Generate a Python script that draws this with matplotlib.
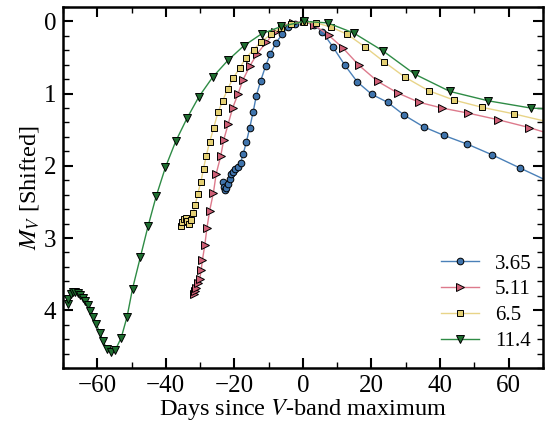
import numpy as np
import matplotlib
matplotlib.use("Agg")
from matplotlib import pyplot as plt
from matplotlib.ticker import MultipleLocator

plt.rcParams['font.family'] = ['Liberation Serif', 'DejaVu Serif']
plt.rcParams['mathtext.fontset'] = 'stix'

# Light-curve samples (days since V max, shifted M_V).
# The last entry of each series sits past the right edge: it only carries the line.
labels = ['3.65', '5.11', '6.5', '11.4']

t_365 = [-23.2, -23.0, -22.7, -22.3, -21.9, -21.4, -20.9, -20.4, -19.7, -18.9, -18.2, -17.4,
         -16.5, -15.5, -14.5, -13.6, -12.3, -10.9, -9.5, -7.9, -6.1, -4.3, -2.4, 0.2, 3.3,
         5.6, 8.7, 12.3, 15.9, 20.1, 24.7, 29.6, 35.2, 41.2, 48.0, 55.3, 63.3, 75.0]
m_365 = [2.22, 2.30, 2.34, 2.31, 2.25, 2.18, 2.12, 2.08, 2.05, 2.02, 1.96, 1.83,
         1.67, 1.47, 1.25, 1.03, 0.82, 0.62, 0.45, 0.30, 0.18, 0.08, 0.03, 0.0, 0.05,
         0.14, 0.35, 0.61, 0.84, 1.01, 1.12, 1.30, 1.46, 1.58, 1.70, 1.85, 2.03, 2.29]

t_511 = [-31.9, -31.6, -31.1, -30.6, -30.1, -29.7, -29.3, -28.6, -28.0, -27.2, -26.1,
         -25.3, -24.0, -23.1, -21.8, -20.5, -18.9, -17.5, -15.5, -13.4, -10.7, -8.2, -6.0,
         -3.0, 0.2, 3.3, 7.5, 11.7, 16.4, 21.8, 27.6, 33.9, 40.6, 48.2, 56.8, 66.0, 75.0]
m_511 = [3.77, 3.73, 3.69, 3.63, 3.57, 3.45, 3.30, 3.09, 2.86, 2.62, 2.37,
         2.11, 1.87, 1.64, 1.42, 1.20, 1.00, 0.81, 0.62, 0.45, 0.29, 0.15, 0.06,
         0.02, 0.0, 0.05, 0.19, 0.37, 0.61, 0.83, 0.99, 1.12, 1.20, 1.27, 1.36, 1.47, 1.60]

t_65 = [-35.6, -35.2, -34.8, -34.2, -33.7, -33.2, -32.7, -32.1, -31.4, -30.7, -29.8,
        -29.0, -28.2, -27.2, -26.0, -24.8, -23.4, -22.0, -20.4, -18.5, -16.7, -14.4,
        -12.1, -9.4, -6.5, -3.6, 0.2, 3.9, 8.3, 13.0, 18.0, 23.7, 29.7, 36.7, 44.1,
        52.3, 61.5, 75.0]
m_65 = [2.83, 2.78, 2.73, 2.72, 2.76, 2.80, 2.75, 2.65, 2.54, 2.39, 2.23,
        2.04, 1.86, 1.67, 1.47, 1.26, 1.10, 0.94, 0.79, 0.65, 0.51, 0.39,
        0.28, 0.18, 0.09, 0.03, 0.01, 0.02, 0.08, 0.18, 0.35, 0.56, 0.77, 0.96, 1.09,
        1.19, 1.28, 1.43]

t_114 = [-68.6, -68.4, -67.8, -67.1, -66.4, -65.6, -64.9, -64.2, -63.5, -62.7, -62.0,
         -61.1, -60.3, -59.3, -58.3, -57.2, -56.1, -54.7, -53.0, -51.3, -49.7, -47.4,
         -45.2, -42.8, -40.1, -37.1, -33.8, -30.3, -26.3, -21.9, -17.3, -12.0, -6.3,
         0.2, 7.2, 14.8, 23.4, 32.6, 42.9, 54.1, 66.5, 75.0]
m_114 = [3.91, 3.85, 3.78, 3.75, 3.75, 3.76, 3.79, 3.83, 3.87, 3.93, 4.01,
         4.09, 4.19, 4.31, 4.43, 4.54, 4.58, 4.55, 4.38, 4.09, 3.70, 3.26,
         2.84, 2.42, 2.02, 1.66, 1.34, 1.04, 0.77, 0.54, 0.34, 0.17, 0.07,
         0.0, 0.02, 0.16, 0.41, 0.73, 0.97, 1.10, 1.20, 1.22]

series = [(t_365, m_365), (t_511, m_511), (t_65, m_65), (t_114, m_114)]
line_colors = ['#4a80b8', '#dd7a8c', '#e8d488', '#2e8b45']
face_colors = ['#3f74ad', '#cf5f76', '#e3cf73', '#1e6e30']
markers = ['o', '>', 's', 'v']
msizes = [4.8, 5.2, 4.6, 5.2]

fig = plt.figure(figsize=(5.5, 4.21), dpi=100)
ax = fig.add_axes([0.1145, 0.126, 0.8725, 0.8574])

for (t, m), lc, fc, mk, ms, lab in zip(series, line_colors, face_colors, markers, msizes, labels):
    ax.plot(t, m, color=lc, lw=1.0, marker=mk, markersize=ms, markerfacecolor=fc,
            markeredgecolor='black', markeredgewidth=0.7, markevery=slice(0, len(t) - 1),
            label=lab)

ax.set_xlim(-70, 70)
ax.set_ylim(4.8, -0.2)
ax.xaxis.set_major_locator(MultipleLocator(20))
ax.xaxis.set_minor_locator(MultipleLocator(10))
ax.yaxis.set_major_locator(MultipleLocator(1))
ax.yaxis.set_minor_locator(MultipleLocator(0.2))
ax.tick_params(which='both', direction='in', top=True, right=True, labelsize=18)
ax.tick_params(which='major', length=7, width=1.5, pad=5)
ax.tick_params(which='minor', length=4, width=1.0)
for s in ax.spines.values():
    s.set_linewidth(1.8)

ax.set_xlabel('Days since $V$-band maximum', fontsize=17.5, labelpad=0)
ax.set_ylabel('$M_V$ [Shifted]', fontsize=17.5, labelpad=2)

ax.legend(loc='lower right', frameon=False, fontsize=15, handlelength=1.85,
          handletextpad=0.75, labelspacing=0.3, bbox_to_anchor=(1.015, -0.005))

fig.savefig('out.png', dpi=100)
